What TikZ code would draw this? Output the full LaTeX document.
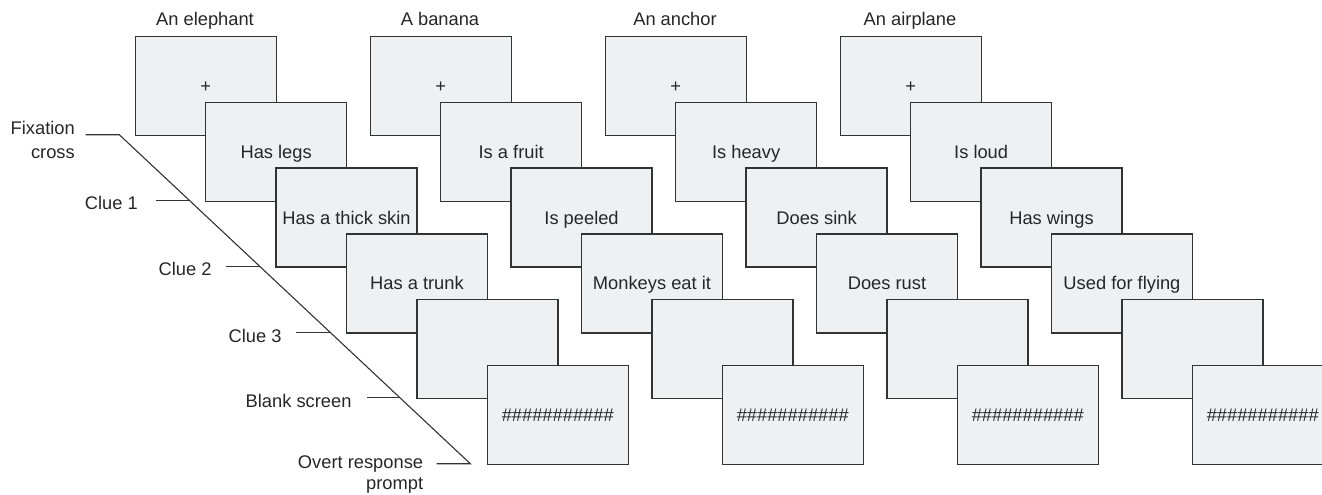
\documentclass[tikz,border=0pt]{standalone}
\usepackage{fontspec}
\setmainfont{Liberation Sans}
\definecolor{boxfill}{HTML}{EFF0F2}
\definecolor{boxline}{HTML}{333333}
\definecolor{txt}{HTML}{262626}
\begin{document}
\begin{tikzpicture}[x=1pt,y=-1pt,
  every node/.style={text=txt, font=\fontsize{18.3}{22}\selectfont, inner sep=0pt},
  screen/.style={draw=boxline, line width=1.5pt, fill=boxfill,
    minimum width=141pt, minimum height=99pt, anchor=north west,
    text height=13.2pt, text depth=0pt},
  title/.style={anchor=base},
  lab/.style={anchor=east, align=right},
  lead/.style={draw=boxline, line width=1.1pt}]
\useasboundingbox (0,0) rectangle (1322,495);
\clip (0,0) rectangle (1322,495);
\foreach [count=\c from 0] \t/\a/\b/\d in {An elephant/Has legs/Has a thick skin/Has a trunk,
  A banana/Is a fruit/Is peeled/Monkeys eat it,
  An anchor/Is heavy/Does sink/Does rust,
  An airplane/Is loud/Has wings/Used for flying}{
  \pgfmathsetmacro\X{134.5+235*\c}
  \node[title] (t\c) at (\X+70.5,25.2) {\t};
  \node[screen] (s\c-0) at (\X,35.7) {+};
  \node[screen] (s\c-1) at (\X+70.4,101.5) {\a};
  \node[screen] (s\c-2) at (\X+140.8,167.3) {\b};
  \node[screen] (s\c-3) at (\X+211.2,233.1) {\d};
  \node[screen] (s\c-4) at (\X+281.6,298.9) {};
  \node[screen] (s\c-5) at (\X+352,364.7) {\#\#\#\#\#\#\#\#\#\#\#};
}
% timeline bracket
\coordinate (f0) at (85.7,134.7);
\coordinate (d0) at (119.3,134.7);
\coordinate (d5) at (470.3,463.7);
\coordinate (f5) at (436.7,463.7);
\draw[lead] (f0) -- (d0) -- (d5) -- (f5);
\foreach \k in {1,...,4}{
  \coordinate (f\k) at (85.7+70.2*\k,134.7+65.8*\k);
  \coordinate (d\k) at (119.3+70.2*\k,134.7+65.8*\k);
  \draw[lead] (f\k) -- (d\k);
}
\node[lab] (l0) at (75,140) {Fixation\\[2pt]cross};
\node[lab] (l1) at (138,202.5) {Clue 1};
\node[lab] (l2) at (211.7,269) {Clue 2};
\node[lab] (l3) at (281.7,336) {Clue 3};
\node[lab] (l4) at (351.7,400.5) {Blank screen};
\node[lab] (l5) at (423.3,474.5) {Overt response\\[-1pt]prompt};
\end{tikzpicture}
\end{document}
